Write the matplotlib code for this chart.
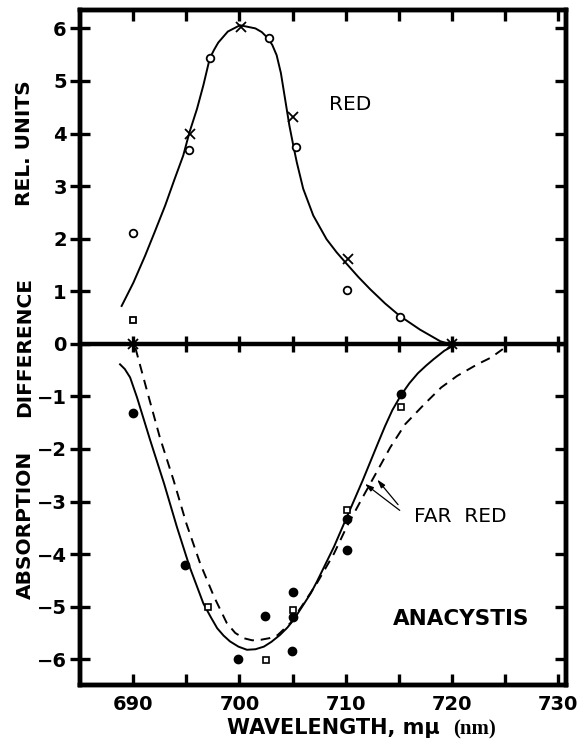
import matplotlib
matplotlib.use("Agg")
import matplotlib.pyplot as plt
from matplotlib.ticker import FixedLocator

# --- data ---
# upper panel (RED), fitted curve
red_curve_x = [688.9, 690.0, 691.1, 692.0, 693.0, 693.9, 694.7, 695.3, 696.0, 696.6,
               697.2, 697.6, 698.0, 698.9, 700.05, 701.5, 702.1, 702.7, 703.1, 703.5,
               703.9, 704.3, 704.7, 705.1, 705.4, 706.0, 706.95, 708.2, 709.15, 710.1,
               711.2, 712.3, 713.7, 715.1, 717.0, 718.9, 719.7]
red_curve_y = [0.72, 1.16, 1.67, 2.12, 2.63, 3.14, 3.58, 4.03, 4.47, 4.92,
               5.43, 5.59, 5.73, 5.94, 6.06, 6.00, 5.93, 5.81, 5.68, 5.49,
               5.15, 4.65, 4.15, 3.74, 3.45, 2.95, 2.44, 1.99, 1.74, 1.52,
               1.27, 1.04, 0.77, 0.53, 0.27, 0.05, 0.0]
red_circ_x = [690.0, 695.2, 697.2, 702.8, 705.3, 710.1, 715.1]
red_circ_y = [2.10, 3.69, 5.43, 5.82, 3.74, 1.02, 0.51]
red_cross_x = [695.3, 700.1, 705.0, 710.2, 690.0, 720.0]
red_cross_y = [4.00, 6.03, 4.31, 1.61, 0.0, 0.0]
red_sq_x = [690.0]
red_sq_y = [0.46]

# lower panel (FAR RED), solid curve
fr_solid_x = [688.75, 689.2, 689.7, 690.35, 691.6, 692.9, 694.1, 695.3, 696.6, 697.3,
              697.9, 698.5, 699.1, 699.9, 700.7, 701.5, 702.3, 703.0, 703.8, 704.5,
              705.1, 705.9, 706.7, 707.3, 708.9, 710.1, 711.6, 713.0, 713.7, 714.4,
              715.2, 716.0, 716.8, 717.6, 718.3, 719.3, 720.2]
fr_solid_y = [-0.39, -0.48, -0.64, -1.02, -1.84, -2.66, -3.48, -4.24, -4.94, -5.20,
              -5.41, -5.55, -5.66, -5.76, -5.82, -5.81, -5.76, -5.67, -5.54, -5.40,
              -5.25, -5.00, -4.75, -4.52, -3.86, -3.30, -2.60, -1.91, -1.57, -1.26,
              -0.98, -0.75, -0.56, -0.41, -0.29, -0.13, -0.03]
# lower panel, dashed curve
fr_dash_x = [690.2, 691.3, 692.5, 693.8, 695.0, 696.3, 697.6, 698.8, 699.6, 700.4,
             701.2, 702.0, 702.8, 703.6, 704.8, 706.0, 707.3, 708.9, 710.1, 711.6,
             713.0, 714.2, 715.6, 717.4, 719.0, 720.5, 722.4, 723.7, 724.8]
fr_dash_y = [-0.08, -0.90, -1.78, -2.60, -3.42, -4.18, -4.81, -5.31, -5.50, -5.60,
             -5.64, -5.63, -5.60, -5.54, -5.31, -4.95, -4.55, -3.99, -3.48, -2.92,
             -2.41, -1.97, -1.53, -1.15, -0.83, -0.61, -0.39, -0.26, -0.10]
fr_dot_x = [690.0, 694.9, 699.9, 702.4, 705.0, 705.0, 704.9, 710.1, 710.1, 715.2]
fr_dot_y = [-1.31, -4.21, -6.00, -5.17, -4.72, -5.19, -5.84, -3.33, -3.93, -0.96]
fr_sq_x = [697.0, 702.45, 705.0, 710.15, 715.2]
fr_sq_y = [-5.00, -6.02, -5.07, -3.17, -1.20]

xticks_major = [690, 700, 710, 720, 730]
xticks_minor = [695, 705, 715, 725]
yticks = [-6, -5, -4, -3, -2, -1, 0, 1, 2, 3, 4, 5, 6]

plt.rcParams['font.family'] = ['DejaVu Sans']

fig = plt.figure(figsize=(5.84, 7.40), dpi=100)
ax = fig.add_axes([80 / 584, 55 / 740, 486 / 584, 675 / 740])

ax.set_xlim(684.98, 730.75)
ax.set_ylim(-6.49, 6.35)

# curves
ax.plot(red_curve_x, red_curve_y, color='black', lw=1.4, solid_joinstyle='round')
ax.plot(fr_solid_x, fr_solid_y, color='black', lw=1.4, solid_joinstyle='round')
ax.plot(fr_dash_x, fr_dash_y, color='black', lw=1.4, ls=(0, (5, 3.5)))

# markers
mk = dict(ls='none', color='black')
ax.plot(red_circ_x, red_circ_y, marker='o', ms=5.5, mfc='white', mew=1.3, **mk)
ax.plot(red_cross_x, red_cross_y, marker='x', ms=6.5, mew=1.3, **mk)
ax.plot(red_sq_x, red_sq_y, marker='s', ms=4.5, mfc='white', mew=1.3, **mk)
ax.plot(fr_dot_x, fr_dot_y, marker='o', ms=6, **mk)
ax.plot(fr_sq_x, fr_sq_y, marker='s', ms=4.5, mfc='white', mew=1.2, **mk)

# zero line with crossing ticks
ax.axhline(0, color='black', lw=3.2, zorder=3)
zero_ticks = sorted(xticks_major + xticks_minor)
ax.plot(zero_ticks, [0] * len(zero_ticks), ls='none', marker='|',
        ms=12, mew=2.4, color='black', zorder=3)

# spines / ticks
for s in ax.spines.values():
    s.set_linewidth(3.2)
ax.xaxis.set_major_locator(FixedLocator(xticks_major))
ax.xaxis.set_minor_locator(FixedLocator(xticks_minor))
ax.yaxis.set_major_locator(FixedLocator(yticks))
ax.tick_params(axis='x', which='both', direction='in', top=True, length=8,
               width=2.4, pad=7, labelsize=14)
ax.tick_params(axis='y', which='both', direction='inout', right=False, length=15,
               width=2.4, pad=2, labelsize=14)
for lab in ax.get_yticklabels() + ax.get_xticklabels():
    lab.set_fontweight('bold')

# inward ticks on the right spine
axr = ax.twinx()
axr.set_ylim(ax.get_ylim())
axr.yaxis.set_major_locator(FixedLocator(yticks))
axr.tick_params(axis='y', direction='in', length=8, width=2.4, labelright=False)
for s in axr.spines.values():
    s.set_linewidth(3.2)

# annotations
ax.text(708.4, 4.44, 'RED', fontsize=14.5, ha='left', va='baseline')
ax.text(716.45, -3.39, 'FAR  RED', fontsize=14.5, ha='left', va='baseline')
ax.text(714.4, -5.35, 'ANACYSTIS', fontsize=15.5, fontweight='bold',
        ha='left', va='baseline')
arrow = dict(arrowstyle='-|>,head_length=0.5,head_width=0.15', lw=0.9, color='black')
ax.annotate('', xy=(711.6, -2.63), xytext=(715.3, -3.2), arrowprops=arrow)
ax.annotate('', xy=(712.8, -2.54), xytext=(715.1, -3.1), arrowprops=arrow)

# axis labels
ylab = dict(rotation=90, fontsize=14.5, fontweight='bold', ha='center', va='center')
fig.text(25 / 584, 1 - 525 / 740, 'ABSORPTION', **ylab)
fig.text(25 / 584, 1 - 347 / 740, 'DIFFERENCE', **ylab)
fig.text(25 / 584, 1 - 143 / 740, 'REL. UNITS', **ylab)
fig.text(227 / 584, 6 / 740, 'WAVELENGTH, m\u03bc', fontsize=15, fontweight='bold',
         ha='left', va='baseline')
fig.text(453 / 584, 6 / 740, '(nm)', fontsize=15, fontweight='bold',
         family='Liberation Serif', ha='left', va='baseline')

fig.savefig('out.png', dpi=100)
